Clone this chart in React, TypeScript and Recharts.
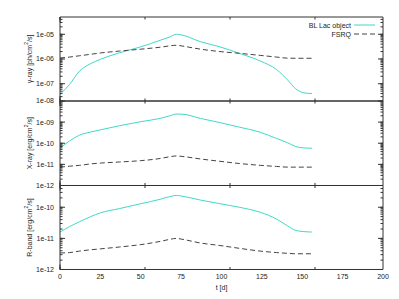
import React from "react";
import { LineChart, Line, XAxis, YAxis, Legend } from "recharts";

// ---- data ----
const tDays = [0, 6, 12, 19, 25, 37, 50, 62, 68, 72, 75, 87, 99, 111, 124, 134, 141, 146, 151, 156];

const gammaBL = [3.7e-8, 9.5e-8, 3.2e-7, 6.5e-7, 9.7e-7, 1.8e-6, 3.1e-6, 5.7e-6, 7.8e-6, 1.0e-5, 9.5e-6, 5.0e-6, 3.1e-6, 1.7e-6, 8.3e-7, 3.8e-7, 1.4e-7, 6.2e-8, 4.3e-8, 4.0e-8];
const gammaFSRQ = [1.1e-6, 1.2e-6, 1.35e-6, 1.55e-6, 1.75e-6, 2.1e-6, 2.5e-6, 3.0e-6, 3.4e-6, 3.6e-6, 3.4e-6, 2.5e-6, 2.0e-6, 1.7e-6, 1.4e-6, 1.2e-6, 1.08e-6, 1.07e-6, 1.07e-6, 1.07e-6];

const xrayBL = [5.8e-11, 1.3e-10, 2.4e-10, 3.4e-10, 4.3e-10, 6.8e-10, 1.05e-9, 1.5e-9, 2.0e-9, 2.4e-9, 2.4e-9, 1.5e-9, 9.5e-10, 5.8e-10, 3.3e-10, 1.7e-10, 1.05e-10, 7.0e-11, 6.0e-11, 5.8e-11];
const xrayFSRQ = [7.4e-12, 8.2e-12, 9.0e-12, 1.05e-11, 1.15e-11, 1.3e-11, 1.5e-11, 1.9e-11, 2.3e-11, 2.5e-11, 2.4e-11, 1.8e-11, 1.4e-11, 1.1e-11, 9.0e-12, 8.0e-12, 7.4e-12, 7.4e-12, 7.4e-12, 7.4e-12];

const rbandBL = [1.6e-11, 2.4e-11, 3.4e-11, 5.0e-11, 6.6e-11, 9.1e-11, 1.3e-10, 1.8e-10, 2.2e-10, 2.4e-10, 2.3e-10, 1.7e-10, 1.3e-10, 1.0e-10, 6.9e-11, 4.2e-11, 2.5e-11, 1.8e-11, 1.65e-11, 1.6e-11];
const rbandFSRQ = [3.4e-12, 3.5e-12, 3.9e-12, 4.3e-12, 4.6e-12, 5.3e-12, 6.3e-12, 8.0e-12, 9.3e-12, 1.0e-11, 9.5e-12, 7.1e-12, 5.9e-12, 4.8e-12, 3.9e-12, 3.5e-12, 3.3e-12, 3.2e-12, 3.2e-12, 3.2e-12];

const xTickLabels = [0, 25, 50, 75, 100, 125, 150, 175, 200];
const gammaTicks = [1e-7, 1e-6, 1e-5];
const xrayTicks = [1e-12, 1e-11, 1e-10, 1e-9, 1e-8];
const xrayLabelTicks = [1e-12, 1e-11, 1e-10, 1e-9];
const xrayTopLabel = [1e-8];
const rbandTicks = [1e-12, 1e-11, 1e-10];

const seriesNames = ["BL Lac object", "FSRQ"];

// ---- styles ----
const TEAL = "#40d8c8";
const DASHC = "#444444";
const DASH = "5 3";
const AXIS = "#333333";
const TEXT = "#222222";
const FONT = "'Liberation Sans', Arial, sans-serif";
const W = 399;
const H = 299;
const LEFT = 60;
const RIGHT_EDGE = 383;
const TINY = 0.001;

const xMinorTicks: number[] = [];
for (let v = 0; v <= 200; v += 5) xMinorTicks.push(v);

function logMinor(lo: number, hi: number): number[] {
  const out: number[] = [];
  const e0 = Math.floor(Math.log10(lo));
  const e1 = Math.ceil(Math.log10(hi));
  for (let e = e0; e <= e1; e++) {
    for (let m = 1; m <= 9; m++) {
      const v = m * Math.pow(10, e);
      if (v >= lo * 0.999 && v <= hi * 0.999) out.push(v);
    }
  }
  return out;
}

function decadeLabel(v: number): string {
  const e = Math.round(Math.log10(v));
  return `1e${e < 0 ? "-" : "+"}${String(Math.abs(e)).padStart(2, "0")}`;
}

const noTick = () => <g />;

function YTick({ x, y, payload }: any) {
  return (
    <text x={x} y={y} textAnchor="end" dominantBaseline="central" fontSize={7} fill={TEXT} fontFamily={FONT}>
      {decadeLabel(payload.value)}
    </text>
  );
}

type PanelProps = {
  bl: number[];
  fsrq: number[];
  domain: [number, number];
  ticks: number[];
  labelTicks: number[];
  title: string;
  top: number;
  bottom: number;
  showX?: boolean;
  showLegend?: boolean;
  edgeLabel?: number[];
};

function Title({ viewBox, text }: any) {
  const cx = 29;
  const cy = viewBox.y + viewBox.height / 2;
  const parts = text.split("^2");
  return (
    <text
      x={cx}
      y={cy}
      transform={`rotate(-90, ${cx}, ${cy})`}
      textAnchor="middle"
      dominantBaseline="central"
      fontSize={7}
      fill={TEXT}
      fontFamily={FONT}
    >
      <tspan>{parts[0]}</tspan>
      <tspan dy={-3} fontSize={5}>2</tspan>
      <tspan dy={3}>{parts[1]}</tspan>
    </text>
  );
}

function XTitle({ viewBox }: any) {
  return (
    <text
      x={viewBox.x + viewBox.width / 2}
      y={viewBox.y + 21}
      textAnchor="middle"
      fontSize={7}
      fill={TEXT}
      fontFamily={FONT}
    >
      t [d]
    </text>
  );
}

const legendContent = () => (
  <svg width={100} height={22} style={{ display: "block", overflow: "visible" }}>
    {seriesNames.map((name, i) => (
      <g key={name}>
        <text
          x={61}
          y={6 + 9 * i}
          textAnchor="end"
          dominantBaseline="central"
          fontSize={7}
          fill={TEXT}
          fontFamily={FONT}
        >
          {name}
        </text>
        <line
          x1={64}
          x2={85}
          y1={6 + 9 * i}
          y2={6 + 9 * i}
          stroke={i === 0 ? TEAL : DASHC}
          strokeWidth={1}
          strokeDasharray={i === 0 ? undefined : DASH}
        />
      </g>
    ))}
  </svg>
);

function Panel({ bl, fsrq, domain, ticks, labelTicks, title, top, bottom, showX, showLegend, edgeLabel }: PanelProps) {
  const rows = tDays.map((t, i) => ({ t, bl: bl[i], fsrq: fsrq[i] }));
  const minor = logMinor(domain[0], domain[1]);
  const common = { type: "number" as const, allowDataOverflow: true };
  const ycommon = { type: "number" as const, scale: "log" as const, domain, allowDataOverflow: true, width: TINY, interval: 0 as const };
  return (
    <div style={{ position: "absolute", left: 0, top: 0 }}>
      <LineChart
        width={W}
        height={H}
        data={rows}
        margin={{ top, bottom: H - bottom, left: LEFT, right: W - RIGHT_EDGE }}
      >
        <XAxis
          xAxisId="x"
          dataKey="t"
          {...common}
          domain={[0, 200]}
          ticks={xTickLabels}
          interval={0}
          height={TINY}
          tickLine={false}
          axisLine={{ stroke: AXIS }}
          tickSize={0}
          tickMargin={5}
          tick={showX ? { fontSize: 7, fill: TEXT, fontFamily: FONT } : noTick}
          label={showX ? { content: (p: any) => <XTitle {...p} /> } : undefined}
        />
        <XAxis xAxisId="xb" {...common} domain={[0, 200]} ticks={xTickLabels} interval={0} height={TINY} mirror tickSize={5} tick={noTick} axisLine={false} tickLine={{ stroke: AXIS }} />
        <XAxis xAxisId="xbm" {...common} domain={[0, 200]} ticks={xMinorTicks} interval={0} height={TINY} mirror tickSize={2.5} tick={noTick} axisLine={false} tickLine={{ stroke: AXIS }} />
        <XAxis xAxisId="xt" orientation="top" {...common} domain={[0, 200]} ticks={xTickLabels} interval={0} height={TINY} mirror tickSize={5} tick={noTick} axisLine={{ stroke: AXIS }} tickLine={{ stroke: AXIS }} />
        <XAxis xAxisId="xtm" orientation="top" {...common} domain={[0, 200]} ticks={xMinorTicks} interval={0} height={TINY} mirror tickSize={2.5} tick={noTick} axisLine={false} tickLine={{ stroke: AXIS }} />

        <YAxis
          yAxisId="y"
          {...ycommon}
          ticks={labelTicks}
          tickLine={false}
          tickSize={0}
          tickMargin={6}
          axisLine={{ stroke: AXIS }}
          tick={(p: any) => <YTick {...p} />}
          label={{ content: (p: any) => <Title {...p} text={title} /> }}
        />
        {edgeLabel && (
          <YAxis
            yAxisId="edge"
            type="number"
            scale="log"
            domain={[edgeLabel[0], edgeLabel[0] * 1e4]}
            allowDataOverflow
            width={TINY}
            interval={0}
            ticks={edgeLabel}
            tickLine={false}
            tickSize={0}
            tickMargin={6}
            axisLine={false}
            tick={(p: any) => <YTick {...p} />}
          />
        )}
        <YAxis yAxisId="yl" {...ycommon} ticks={ticks} mirror tickSize={5} tick={noTick} axisLine={false} tickLine={{ stroke: AXIS }} />
        <YAxis yAxisId="ylm" {...ycommon} ticks={minor} mirror tickSize={2.5} tick={noTick} axisLine={false} tickLine={{ stroke: AXIS }} />
        <YAxis yAxisId="yr" orientation="right" {...ycommon} ticks={ticks} mirror tickSize={5} tick={noTick} axisLine={{ stroke: AXIS }} tickLine={{ stroke: AXIS }} />
        <YAxis yAxisId="yrm" orientation="right" {...ycommon} ticks={minor} mirror tickSize={2.5} tick={noTick} axisLine={false} tickLine={{ stroke: AXIS }} />

        {showLegend && (
          <Legend
            layout="horizontal"
            verticalAlign="middle"
            align="center"
            content={legendContent}
            wrapperStyle={{ position: "absolute", top: 19, left: 290, width: 100 }}
          />
        )}

        <Line
          xAxisId="x"
          yAxisId="y"
          dataKey="bl"
          name={seriesNames[0]}
          type="monotone"
          stroke={TEAL}
          strokeWidth={1}
          dot={false}
          isAnimationActive={false}
        />
        <Line
          xAxisId="x"
          yAxisId="y"
          dataKey="fsrq"
          name={seriesNames[1]}
          type="monotone"
          stroke={DASHC}
          strokeWidth={1}
          strokeDasharray={DASH}
          dot={false}
          isAnimationActive={false}
        />
      </LineChart>
    </div>
  );
}

export default function App() {
  return (
    <div
      style={{
        position: "absolute",
        left: 0,
        top: 0,
        width: W,
        height: H,
        background: "#fff",
        fontFamily: FONT,
      }}
    >
      <Panel
        bl={gammaBL}
        fsrq={gammaFSRQ}
        domain={[2e-8, 5e-5]}
        ticks={gammaTicks}
        labelTicks={gammaTicks}
        title="γ-ray [ph/cm^2/s]"
        top={17}
        bottom={101}
        showLegend
        edgeLabel={xrayTopLabel}
      />
      <Panel
        bl={xrayBL}
        fsrq={xrayFSRQ}
        domain={[1e-12, 1e-8]}
        ticks={xrayTicks}
        labelTicks={xrayLabelTicks}
        title="X-ray [erg/cm^2/s]"
        top={101}
        bottom={185.5}
      />
      <Panel
        bl={rbandBL}
        fsrq={rbandFSRQ}
        domain={[1e-12, 5e-10]}
        ticks={rbandTicks}
        labelTicks={rbandTicks}
        title="R-band [erg/cm^2/s]"
        top={185.5}
        bottom={269.5}
        showX
      />
    </div>
  );
}
